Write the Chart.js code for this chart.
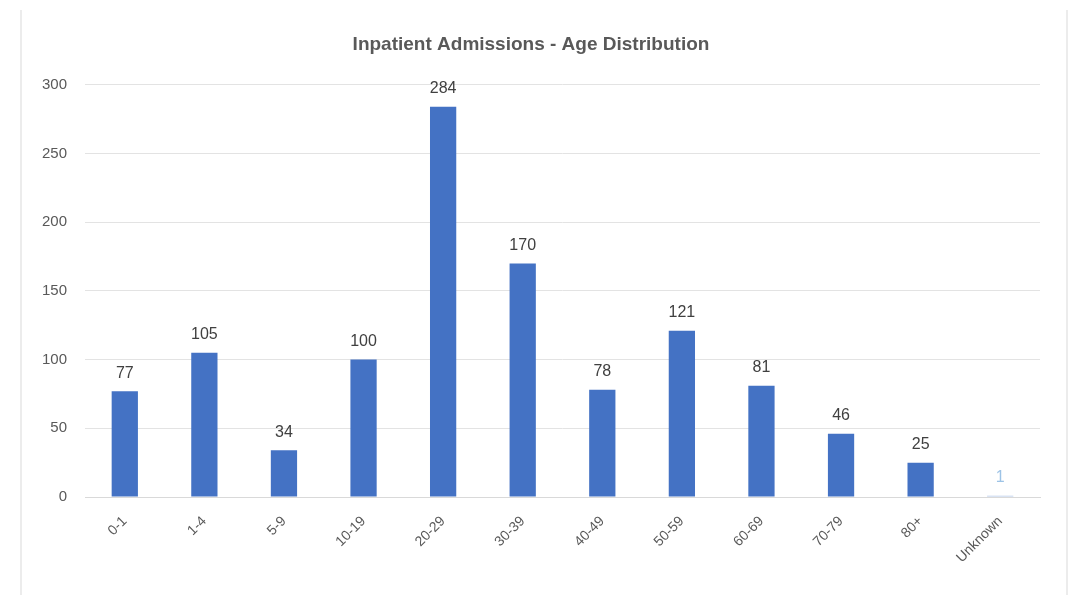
<!DOCTYPE html>
<html>
<head>
<meta charset="utf-8">
<script src="https://cdn.jsdelivr.net/npm/chart.js@4"></script>
<style>
  html, body { margin: 0; padding: 0; background: #fff; }
  #wrap { position: relative; width: 1068px; height: 595px; }
  /* marco gris del gráfico original */
  #frame { position: absolute; left: 20px; top: 10px; width: 1044px; height: 585px;
           border-left: 2px solid #ececec; border-right: 2px solid #ececec; }
  canvas { position: absolute; left: 0; top: 0; }
</style>
</head>
<body>
<div id="wrap">
  <div id="frame"></div>
  <canvas id="ageChart" width="1068" height="595"></canvas>
</div>
<script>
// Categorías de edad
const ageGroups = ['0-1', '1-4', '5-9', '10-19', '20-29', '30-39', '40-49', '50-59', '60-69', '70-79', '80+', 'Unknown'];
// Número de ingresos por grupo
const admissions = [77, 105, 34, 100, 284, 170, 78, 121, 81, 46, 25, 1];
// Marcas del eje Y
const yTicks = [0, 50, 100, 150, 200, 250, 300];

const barColors = ageGroups.map(g => g === 'Unknown' ? '#b4c7e7' : '#4472c4');

// Etiquetas de valor encima de cada barra
const valueLabels = {
    id: 'valueLabels',
    afterDatasetsDraw(chart) {
        const ctx = chart.ctx;
        const meta = chart.getDatasetMeta(0);
        ctx.save();
        ctx.font = '16px "Liberation Sans", sans-serif';
        ctx.textAlign = 'center';
        ctx.textBaseline = 'bottom';
        meta.data.forEach((bar, i) => {
            ctx.fillStyle = ageGroups[i] === 'Unknown' ? '#9dc3e6' : '#404040';
            ctx.fillText(admissions[i], bar.x, bar.y - 10);
        });
        ctx.restore();
    }
};

const ctx = document.getElementById('ageChart').getContext('2d');
new Chart(ctx, {
    type: 'bar',
    data: {
        labels: ageGroups,
        datasets: [{
            data: admissions,
            backgroundColor: barColors,
            barPercentage: 0.66,
            categoryPercentage: 0.5
        }]
    },
    options: {
        responsive: false,
        animation: false,
        layout: { padding: { left: 22, right: 28, top: 0, bottom: 0 } },
        plugins: {
            legend: { display: false },
            tooltip: { enabled: false },
            title: {
                display: true,
                text: 'Inpatient Admissions - Age Distribution',
                color: '#595959',
                font: { size: 19, weight: 'bold', family: '"Liberation Sans", sans-serif' },
                padding: { top: 33, bottom: 29 }
            }
        },
        scales: {
            x: {
                grid: { display: false },
                border: { color: '#d9d9d9', width: 1 },
                ticks: {
                    color: '#595959',
                    font: { size: 14, family: '"Liberation Sans", sans-serif' },
                    minRotation: 45,
                    maxRotation: 45,
                    padding: 8
                },
                afterFit(scale) { scale.height = 98; }
            },
            y: {
                min: 0,
                max: 300,
                afterBuildTicks(scale) { scale.ticks = yTicks.map(v => ({ value: v })); },
                grid: { color: '#e3e3e3', drawTicks: false },
                border: { display: false },
                ticks: {
                    color: '#595959',
                    font: { size: 15, family: '"Liberation Sans", sans-serif' },
                    padding: 18
                },
                afterFit(scale) { scale.width = 63; }
            }
        }
    },
    plugins: [valueLabels]
});
</script>
</body>
</html>
